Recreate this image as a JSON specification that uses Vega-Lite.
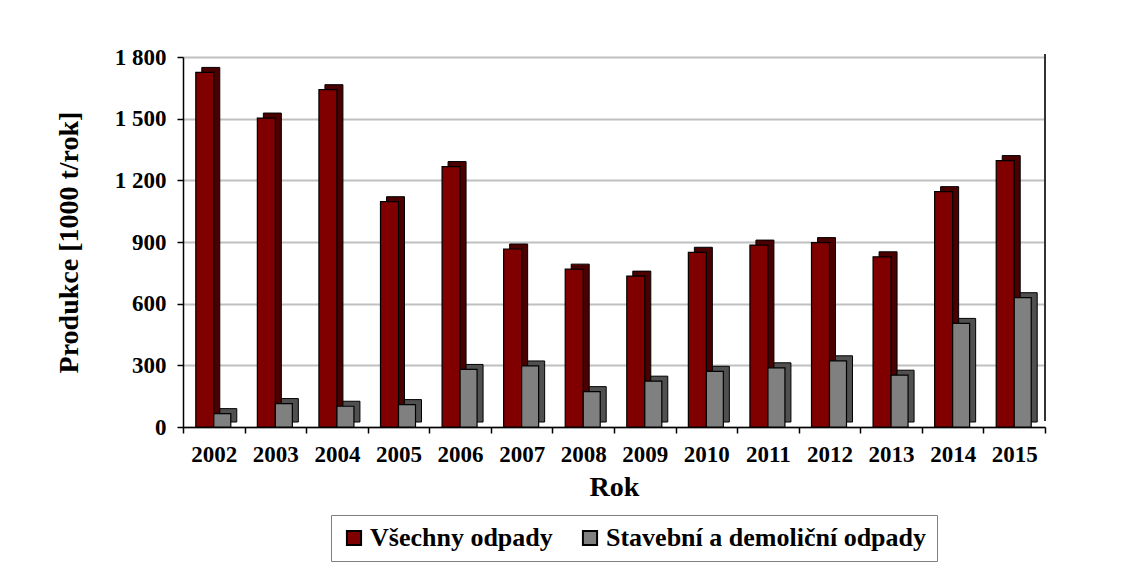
{
  "$schema": "https://vega.github.io/schema/vega-lite/v6.json",
  "width": 862,
  "height": 370,
  "autosize": {"type": "none"},
  "padding": {"left": 183, "top": 57, "right": 92, "bottom": 156},
  "background": "white",
  "config": {
    "view": {"stroke": null},
    "font": "Liberation Serif",
    "axis": {
      "labelFont": "Liberation Serif",
      "titleFont": "Liberation Serif",
      "labelFontWeight": "bold",
      "titleFontWeight": "bold",
      "labelColor": "black",
      "titleColor": "black",
      "domainColor": "black",
      "tickColor": "black",
      "domainWidth": 1.5,
      "tickWidth": 1.5,
      "labelFontSize": 23,
      "titleFontSize": 28
    },
    "legend": {
      "labelFont": "Liberation Serif",
      "labelFontWeight": "bold",
      "labelColor": "black",
      "labelFontSize": 26,
      "labelLimit": 0
    }
  },
  "data": {
    "values": [
      {"rok": "2002", "serie": "Všechny odpady", "hodnota": 1725},
      {"rok": "2003", "serie": "Všechny odpady", "hodnota": 1503},
      {"rok": "2004", "serie": "Všechny odpady", "hodnota": 1641},
      {"rok": "2005", "serie": "Všechny odpady", "hodnota": 1096},
      {"rok": "2006", "serie": "Všechny odpady", "hodnota": 1267},
      {"rok": "2007", "serie": "Všechny odpady", "hodnota": 866},
      {"rok": "2008", "serie": "Všechny odpady", "hodnota": 768},
      {"rok": "2009", "serie": "Všechny odpady", "hodnota": 734},
      {"rok": "2010", "serie": "Všechny odpady", "hodnota": 850},
      {"rok": "2011", "serie": "Všechny odpady", "hodnota": 885},
      {"rok": "2012", "serie": "Všechny odpady", "hodnota": 897},
      {"rok": "2013", "serie": "Všechny odpady", "hodnota": 828},
      {"rok": "2014", "serie": "Všechny odpady", "hodnota": 1145},
      {"rok": "2015", "serie": "Všechny odpady", "hodnota": 1296},
      {"rok": "2002", "serie": "Stavební a demoliční odpady", "hodnota": 65},
      {"rok": "2003", "serie": "Stavební a demoliční odpady", "hodnota": 114},
      {"rok": "2004", "serie": "Stavební a demoliční odpady", "hodnota": 101},
      {"rok": "2005", "serie": "Stavební a demoliční odpady", "hodnota": 109},
      {"rok": "2006", "serie": "Stavební a demoliční odpady", "hodnota": 280},
      {"rok": "2007", "serie": "Stavební a demoliční odpady", "hodnota": 297},
      {"rok": "2008", "serie": "Stavební a demoliční odpady", "hodnota": 172},
      {"rok": "2009", "serie": "Stavební a demoliční odpady", "hodnota": 223},
      {"rok": "2010", "serie": "Stavební a demoliční odpady", "hodnota": 271},
      {"rok": "2011", "serie": "Stavební a demoliční odpady", "hodnota": 288},
      {"rok": "2012", "serie": "Stavební a demoliční odpady", "hodnota": 322},
      {"rok": "2013", "serie": "Stavební a demoliční odpady", "hodnota": 252},
      {"rok": "2014", "serie": "Stavební a demoliční odpady", "hodnota": 504},
      {"rok": "2015", "serie": "Stavební a demoliční odpady", "hodnota": 629}
    ]
  },
  "encoding": {
    "x": {
      "field": "rok",
      "type": "nominal",
      "title": "Rok",
      "scale": {"paddingInner": 0, "paddingOuter": 0},
      "axis": {
        "labelAngle": 0,
        "tickBand": "extent",
        "tickSize": 6,
        "labelPadding": 10,
        "titlePadding": 7,
        "grid": false
      }
    },
    "y": {
      "field": "hodnota",
      "type": "quantitative",
      "title": "Produkce [1000 t/rok]",
      "scale": {"domain": [0, 1800], "nice": false},
      "axis": {
        "values": [0, 300, 600, 900, 1200, 1500, 1800],
        "labelExpr": "replace(format(datum.value, ','), ',', ' ')",
        "tickSize": 6,
        "labelPadding": 11,
        "titlePadding": 31,
        "grid": true,
        "gridColor": "#c0c0c0",
        "gridWidth": 2
      }
    }
  },
  "layer": [
    {
      "mark": {"type": "rule", "color": "#333333", "strokeWidth": 2},
      "encoding": {
        "x": {"datum": "2015", "bandPosition": 1},
        "y": {"datum": 30},
        "y2": {"datum": 1815}
      }
    },
    {
      "transform": [{"filter": "datum.serie === 'Všechny odpady'"}],
      "mark": {"type": "bar", "width": 18, "xOffset": -3, "yOffset": -5, "color": "#4a0000", "stroke": "black", "strokeWidth": 1}
    },
    {
      "transform": [{"filter": "datum.serie === 'Všechny odpady'"}],
      "mark": {"type": "bar", "width": 18, "xOffset": -9, "stroke": "black", "strokeWidth": 1.2},
      "encoding": {
        "color": {
          "field": "serie",
          "type": "nominal",
          "scale": {"domain": ["Všechny odpady", "Stavební a demoliční odpady"], "range": ["#800000", "#808080"]},
          "legend": {
            "title": null,
            "orient": "none",
            "legendX": 148,
            "legendY": 458,
            "direction": "horizontal",
            "symbolType": "square",
            "symbolSize": 200,
            "symbolStrokeColor": "black",
            "symbolStrokeWidth": 2,
            "columnPadding": 24,
            "padding": 10,
            "strokeColor": "#808080",
            "labelOffset": 3
          }
        }
      }
    },
    {
      "transform": [{"filter": "datum.serie === 'Stavební a demoliční odpady'"}],
      "mark": {"type": "bar", "width": 17, "xOffset": 14.5, "yOffset": -5, "color": "#505050", "stroke": "black", "strokeWidth": 1}
    },
    {
      "transform": [{"filter": "datum.serie === 'Stavební a demoliční odpady'"}],
      "mark": {"type": "bar", "width": 17, "xOffset": 8.5, "stroke": "black", "strokeWidth": 1.2},
      "encoding": {
        "color": {"field": "serie", "type": "nominal"}
      }
    }
  ]
}
